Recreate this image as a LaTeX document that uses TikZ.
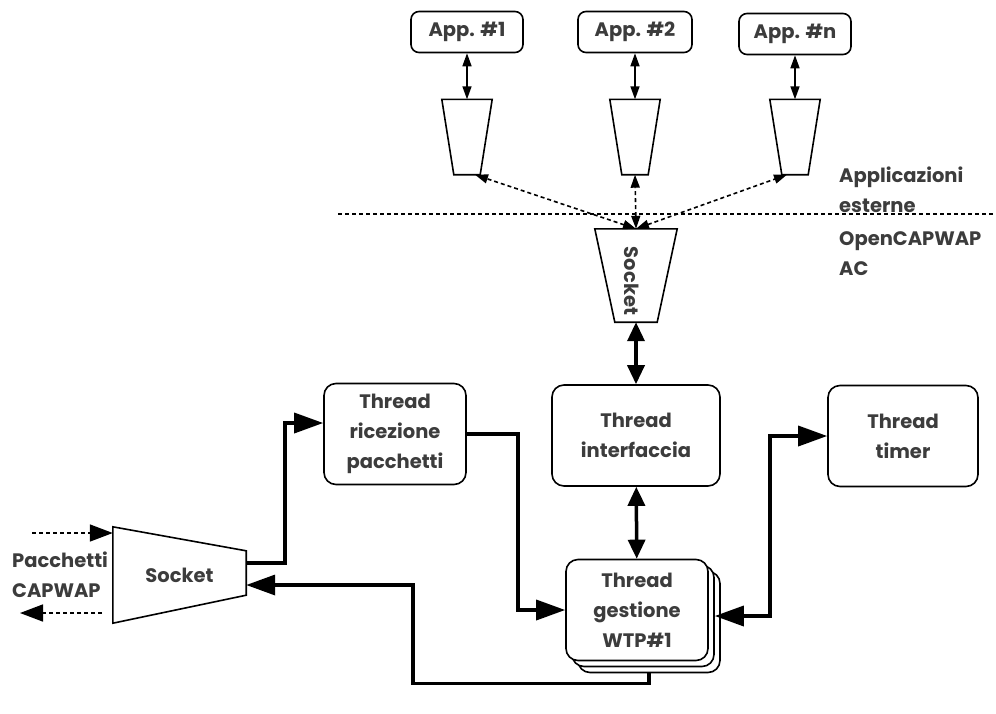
\documentclass[tikz,border=0pt]{standalone}
\usepackage{fontspec}
\setmainfont{Poppins}
\usepackage{xcolor}
\usetikzlibrary{arrows.meta,positioning,calc}
\definecolor{txtgray}{HTML}{3c3c3c}

\begin{document}
\begin{tikzpicture}[
    x=1pt, y=-1pt,
    font=\fontsize{19.5}{30}\selectfont\bfseries,
    box/.style={draw, line width=1.6pt, rounded corners=12pt, fill=white, text=txtgray, align=center, inner sep=0pt},
    appbox/.style={box, rounded corners=8pt, minimum width=112pt, minimum height=41pt},
    thread/.style={box, minimum width=142pt, minimum height=101pt},
    port/.style={inner sep=0pt, minimum width=50pt, minimum height=75pt},
    outline/.style={line width=1.6pt, line join=miter},
    smalltip/.tip={Triangle[width=9pt,length=13pt]},
    midtip/.tip={Triangle[width=17pt,length=23pt]},
    vtip/.tip={Triangle[width=17pt,length=19pt]},
    bigtip/.tip={Triangle[width=20pt,length=29pt]},
    thin/.style={smalltip-smalltip, line width=1.6pt},
    link/.style={-bigtip, line width=3.5pt},
    dlink/.style={bigtip-bigtip, line width=3.5pt},
    vlink/.style={vtip-vtip, line width=3.5pt},
    dotlink/.style={dash pattern=on 4pt off 3pt, line width=1.6pt},
    lbl/.style={text=txtgray, align=left, inner sep=0pt, anchor=west}
]
    \useasboundingbox (0,0) rectangle (996,713);

    % applications and their sockets
    \node[appbox] (app1) at (467,32) {App. \#1};
    \node[appbox, minimum width=114pt] (app2) at (635,32) {App. \#2};
    \node[appbox] (appn) at (795,34) {App. \#n};
    \node[port] (p1) at (467,137) {};
    \node[port] (p2) at (635,137) {};
    \node[port] (pn) at (795,137) {};
    \foreach \p in {p1,p2,pn}
        \draw[outline] (\p.north west) -- (\p.north east) -- ([xshift=-12pt]\p.south east) -- ([xshift=12pt]\p.south west) -- cycle;
    \draw[thin] (app1) -- (p1);
    \draw[thin] (app2) -- (p2);
    \draw[thin] (appn) -- (pn);

    % separator
    \coordinate (sepL) at (338,214);
    \coordinate (sepR) at (996,214);
    \draw[dotlink] (sepL) -- (sepR);
    \node[lbl] (ext) at (839,190) {Applicazioni\\esterne};
    \node[lbl] (ac) at (839,254) {OpenCAPWAP\\AC};

    % AC interface socket
    \node[port, minimum width=82pt, minimum height=93pt] (sockT) at (636,275.5) {};
    \draw[outline] (sockT.north west) -- (sockT.north east) -- ([xshift=-20pt]sockT.south east) -- ([xshift=20pt]sockT.south west) -- cycle;
    \node[rotate=-90, text=txtgray, inner sep=0pt] (sockTlbl) at (632,281) {Socket};
    \draw[dotlink, smalltip-smalltip] (sockT.north) -- ([xshift=8pt]p1.south);
    \draw[dotlink, smalltip-smalltip] (sockT.north) -- (p2.south);
    \draw[dotlink, smalltip-smalltip] (sockT.north) -- ([xshift=-8pt]pn.south);

    % threads
    \node[thread] (recv) at (395,434) {Thread\\ricezione\\pacchetti};
    \node[thread, minimum width=168pt] (iface) at (636,435.5) {Thread\\interfaccia};
    \node[thread, minimum width=150pt] (timer) at (903,436) {Thread\\timer};
    \node[thread] (wtp3) at (649,622) {};
    \node[thread] (wtp2) at (643,616) {};
    \node[thread] (wtp) at (637,610) {Thread\\gestione\\WTP\#1};

    % packet socket
    \node[port, minimum width=133pt, minimum height=96pt, text=txtgray] (sockL) at (179.5,575) {Socket};
    \draw[outline] (sockL.north west) -- ([yshift=-24pt]sockL.north east) -- ([yshift=28pt]sockL.south east) -- (sockL.south west) -- cycle;
    \node[lbl] (pkt) at (12,575) {Pacchetti\\CAPWAP};
    \coordinate (pktin) at (32,533);
    \coordinate (pktoutA) at (102,613);
    \coordinate (pktoutB) at (20,613);
    \draw[dotlink, -midtip] (pktin) -- ([yshift=42pt]sockL.west);
    \draw[dotlink, -midtip] (pktoutA) -- (pktoutB);

    % connections
    \draw[vlink] (sockT) -- (iface);
    \draw[vlink] (iface) -- (wtp);
    \draw[link] ([yshift=12pt]sockL.east) -- ++(39,0) |- ([yshift=11pt]recv.west);
    \draw[link] (recv.east) -- ++(51,0) |- (wtp.west);
    \draw[link] (wtp3.south) -- ++(0,10) -- ++(-236,0) |- ([yshift=-10pt]sockL.east);
    \draw[dlink] (wtp2.east) -- ++(55,0) |- (timer.west);
\end{tikzpicture}
\end{document}
